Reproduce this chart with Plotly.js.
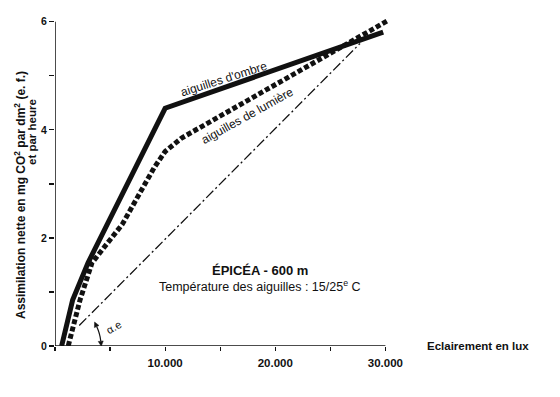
<!DOCTYPE html>
<html>
<head>
<meta charset="utf-8">
<script src="https://cdn.plot.ly/plotly-3.0.1.min.js"></script>
<style>html,body{margin:0;padding:0;background:#fff;}#chart{width:560px;height:397px;}</style>
</head>
<body>
<div id="chart"></div>
<script>
// ---- data ----
const ombreX = [600, 1600, 3000, 10000, 29800];
const ombreY = [0, 0.85, 1.54, 4.4, 5.81];

const lumiereX = [1200, 2270, 3360, 6100, 9000, 10000, 11500, 30200];
const lumiereY = [0, 0.85, 1.54, 2.25, 3.3, 3.6, 3.85, 6.02];

const alphaX = [2200, 27700];
const alphaY = [0.38, 5.6];

const xTickVals = [10000, 20000, 30000];
const xTickText = ['10.000', '20.000', '30.000'];
const yTickVals = [0, 2, 4, 6];
const yTickText = ['0', '2', '4', '6'];

const labelOmbre = "aiguilles d'ombre";
const labelLumiere = "aiguilles de lumière";
const titleMain = "ÉPICÉA - 600 m";
const titleSub = "Température des aiguilles : 15/25<sup>e</sup> C";
const xTitle = "Eclairement en lux";
const yTitle1 = "Assimilation nette en mg CO<sup>2</sup> par dm<sup>2</sup> (e. f.)";
const yTitle2 = "et par heure";
const alphaLabel = "α.e";

// ---- layout geometry ----
const M = {l: 55, r: 168, t: 11, b: 51};
const W = 560, H = 397;
const pw = W - M.l - M.r, ph = H - M.t - M.b;
const xRange = [0, 30600], yRange = [0, 6.2];
const px = p => (p - M.l) / pw;           // pixel -> paper x
const py = p => (H - M.b - p) / ph;       // pixel -> paper y
const dx = p => p / pw * (xRange[1] - xRange[0]); // pixel offset -> data x
const dy = p => p / ph * (yRange[1] - yRange[0]); // pixel offset -> data y

const font = 'Liberation Sans, Arial, Helvetica, sans-serif';
const ink = '#111111';

const traces = [
  {x: ombreX, y: ombreY, mode: 'lines', line: {color: ink, width: 5}, hoverinfo: 'skip'},
  {x: lumiereX, y: lumiereY, mode: 'lines', line: {color: ink, width: 5, dash: '5px,2.5px'}, hoverinfo: 'skip'},
  {x: alphaX, y: alphaY, mode: 'lines', line: {color: ink, width: 1.3, dash: '10px,3px,2px,3px'}, hoverinfo: 'skip'}
];

// arc for the angle α.e
function arcPath(r, a0, a1) {
  let s = '';
  const n = 16;
  for (let i = 0; i <= n; i++) {
    const a = (a0 + (a1 - a0) * i / n) * Math.PI / 180;
    s += (i ? ' L' : 'M') + dx(r * Math.cos(a)).toFixed(1) + ',' + dy(r * Math.sin(a)).toFixed(4);
  }
  return s;
}
function head(r, a, dir) {
  const t = a * Math.PI / 180;
  const cx = r * Math.cos(t), cy = r * Math.sin(t);
  const tx = -Math.sin(t) * dir, ty = Math.cos(t) * dir;
  const nx = Math.cos(t), ny = Math.sin(t);
  const L = 5, Wd = 2.5;
  const tip = [cx + tx * L, cy + ty * L];
  const b1 = [cx + nx * Wd, cy + ny * Wd];
  const b2 = [cx - nx * Wd, cy - ny * Wd];
  const P = q => dx(q[0]).toFixed(1) + ',' + dy(q[1]).toFixed(4);
  return 'M' + P(tip) + ' L' + P(b1) + ' L' + P(b2) + ' Z';
}

const shapes = [
  {type: 'line', xref: 'x', yref: 'y', x0: 0, x1: 30000, y0: 0, y1: 0, line: {color: ink, width: 1.5}},
  {type: 'line', xref: 'x', yref: 'y', x0: 0, x1: 0, y0: 0, y1: 6, line: {color: ink, width: 1.5}},
  {type: 'path', xref: 'x', yref: 'y', path: arcPath(46, 25, 6), line: {color: ink, width: 1.2}},
  {type: 'path', xref: 'x', yref: 'y', path: head(46, 25, 1), fillcolor: ink, line: {color: ink, width: 0.5}},
  {type: 'path', xref: 'x', yref: 'y', path: head(46, 6, -1), fillcolor: ink, line: {color: ink, width: 0.5}}
];

const ann = (o) => Object.assign({showarrow: false, xanchor: 'center', yanchor: 'middle', xref: 'paper', yref: 'paper'}, o);
const annotations = [
  ann({x: px(224), y: py(79), text: labelOmbre, textangle: -17.6, font: {family: font, color: ink, size: 12}}),
  ann({x: px(247), y: py(116), text: labelLumiere, textangle: -29, font: {family: font, color: ink, size: 12}}),
  ann({x: px(260), y: py(270), text: '<b>' + titleMain + '</b>', font: {family: font, color: ink, size: 13}}),
  ann({x: px(260), y: py(286), text: titleSub, font: {family: font, color: ink, size: 12.5}}),
  ann({x: px(478), y: py(346), text: '<b>' + xTitle + '</b>', font: {family: font, color: ink, size: 11.5}}),
  ann({x: px(20), y: py(195), text: '<b>' + yTitle1 + '</b>', textangle: -90, font: {family: font, color: ink, size: 12}}),
  ann({x: px(32), y: py(132), text: '<b>' + yTitle2 + '</b>', textangle: -90, font: {family: font, color: ink, size: 11.5}}),
  ann({x: px(114), y: py(327), text: alphaLabel, textangle: -30, font: {family: font, color: ink, size: 11}})
];

const layout = {
  width: W, height: H,
  margin: M,
  paper_bgcolor: '#fff', plot_bgcolor: '#fff',
  showlegend: false,
  font: {family: font, color: ink},
  xaxis: {
    range: xRange, showgrid: false, zeroline: false, showline: false,
    tickmode: 'array', tickvals: xTickVals, ticktext: xTickText,
    ticks: 'outside', ticklen: 4, tickwidth: 1.2, tickcolor: ink,
    ticklabelstandoff: 2,
    minor: {tickmode: 'linear', tick0: 5000, dtick: 5000, ticks: 'outside', ticklen: 4, tickwidth: 1.2, tickcolor: ink, showgrid: false},
    tickfont: {family: font, size: 11.5, color: ink, weight: 'bold'}
  },
  yaxis: {
    range: yRange, showgrid: false, zeroline: false, showline: false,
    tickmode: 'array', tickvals: yTickVals, ticktext: yTickText,
    ticks: 'outside', ticklen: 5, tickwidth: 1.2, tickcolor: ink,
    minor: {tickmode: 'linear', tick0: 1, dtick: 1, ticks: 'outside', ticklen: 5, tickwidth: 1.2, tickcolor: ink, showgrid: false},
    tickfont: {family: font, size: 10.5, color: ink, weight: 'bold'}
  },
  shapes: shapes,
  annotations: annotations
};

Plotly.newPlot('chart', traces, layout, {staticPlot: true, displayModeBar: false});
</script>
</body>
</html>
